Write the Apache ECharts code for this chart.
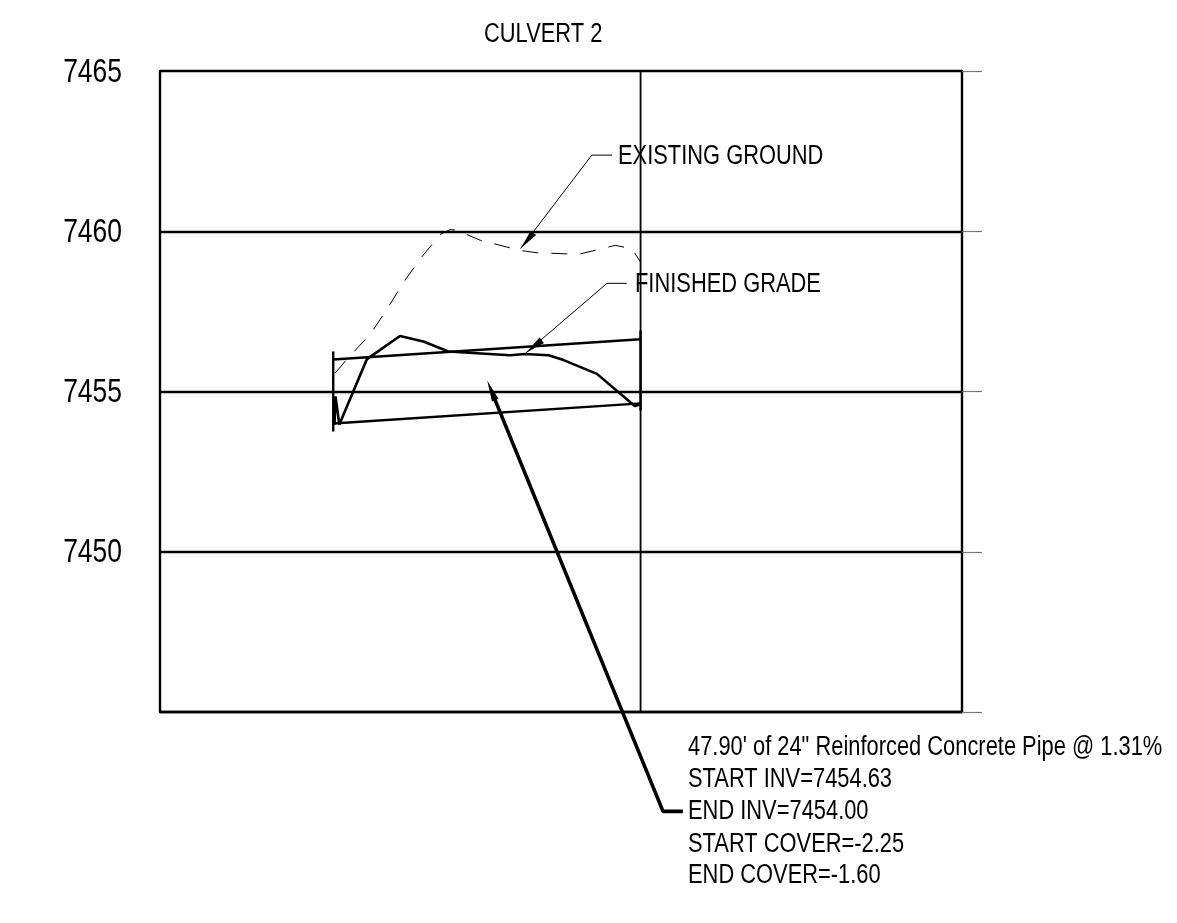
<!DOCTYPE html>
<html>
<head>
<meta charset="utf-8">
<style>html,body{margin:0;padding:0;background:#fff}#c{width:1177px;height:923px}</style>
<script src="https://cdn.jsdelivr.net/npm/echarts@6/dist/echarts.min.js"></script>
</head>
<body>
<div id="c"></div>
<script>
var titleText = 'CULVERT 2';
var yTicks = [7445, 7450, 7455, 7460, 7465];
var yTickLabels = [7450, 7455, 7460, 7465];
var xRange = [-27, 98];
// station (ft), elevation (ft)
var existingGround = [[0.33,7455.58],[2.1,7456.0],[5.75,7456.78],[8.35,7457.56],[10.94,7458.4],[13.53,7459.13],[16.65,7459.9],[18.2,7460.05],[19.5,7460.03],[20.8,7459.9],[22.9,7459.72],[29.15,7459.4],[31.75,7459.33],[38.25,7459.28],[43.97,7459.56],[46.57,7459.45],[47.9,7459.04]];
var finishedGrade = [[0.2,7453.97],[0.35,7454.85],[0.95,7453.97],[5.25,7456.01],[10.4,7456.73],[14.05,7456.56],[17.95,7456.25],[27.55,7456.13],[29.9,7456.17],[33.55,7456.13],[35.9,7455.98],[41.1,7455.55],[47.0,7454.55],[48.0,7454.6]];
var pipeTop = [[0,7456.0],[47.9,7456.63]];
var pipeBottom = [[0,7454.0],[47.9,7454.63]];
var pipeStartEnd = [[0,7456.25],[0,7453.75]];
var pipeFinishEnd = [[47.9,7456.9],[47.9,7454.4]];
var stationLine = [[47.9,7445],[47.9,7465]];
var leaderExisting = [[43.45,7462.375],[40.3,7462.375],[29.2,7459.46]];
var leaderFinished = [[45.75,7458.375],[42.66,7458.375],[30.0,7456.2]];
var leaderPipe = [[54.5,7441.9],[51.4,7441.9],[25.0,7454.85]];
// tip of each arrow, and point on the shaft where the head ends
var arrowHeads = [[[29.2,7459.46],[31.2,7459.95]],[[30.0,7456.2],[32.5,7456.6]],[[24.0,7455.34],[25.25,7454.73]]];
var labelExisting = 'EXISTING GROUND';
var labelFinished = 'FINISHED GRADE';
var pipeNotes = ['47.90\' of 24" Reinforced Concrete Pipe @ 1.31%','START INV=7454.63','END INV=7454.00','START COVER=-2.25','END COVER=-1.60'];
var pipeNoteCentres = [748, 780, 812, 845, 876];

function line(data, width, extra) {
  return Object.assign({type:'line', data:data, symbol:'none', silent:true, animation:false, clip:false,
    lineStyle:{color:'#000', width:width}, z:3}, extra || {});
}
var font = '"Liberation Sans", Arial, sans-serif';
function label(text, x, y) {
  return {type:'text', x:x, y:y, scaleX:0.81, silent:true,
    style:{text:text, font:'27px '+font, fill:'#000', align:'left', verticalAlign:'middle'}};
}
var chart = echarts.init(document.getElementById('c'), null, {renderer:'canvas'});
chart.setOption({
  animation:false,
  backgroundColor:'#fff',
  grid:{left:160, top:71, width:802, height:641, containLabel:false},
  xAxis:{type:'value', min:xRange[0], max:xRange[1], position:'bottom',
    axisLine:{show:true,onZero:false,lineStyle:{color:'#000',width:2.4}},
    axisTick:{show:false}, axisLabel:{show:false}, splitLine:{show:false}},
  yAxis:[
    {type:'value', min:yTicks[0], max:yTicks[yTicks.length-1], interval:5, position:'left',
     axisLine:{show:true,onZero:false,lineStyle:{color:'#000',width:2.4}},
     axisTick:{show:false}, axisLabel:{show:false},
     splitLine:{show:true, lineStyle:{color:'#000', width:2.4}}},
    {type:'value', min:yTicks[0], max:yTicks[yTicks.length-1], interval:5, position:'right',
     axisLine:{show:true,onZero:false,lineStyle:{color:'#000',width:2.4}},
     axisTick:{show:true,length:20,lineStyle:{color:'#777',width:1.2}},
     axisLabel:{show:false}, splitLine:{show:false}}
  ],
  graphic:[
    label(titleText, 484, 35),
    label(labelExisting, 618, 157),
    label(labelFinished, 635, 285)
  ].concat(pipeNotes.map(function(t,i){return label(t, 688, pipeNoteCentres[i]);})),
  series:[
    line(existingGround, 1, {lineStyle:{color:'#000',width:1,type:[16,13]}}),
    line(finishedGrade, 2.6),
    line(pipeTop, 2.4),
    line(pipeBottom, 2.4),
    line(pipeStartEnd, 2.4),
    line(pipeFinishEnd, 2.4),
    line(stationLine, 1.8),
    line(leaderExisting, 1),
    line(leaderFinished, 1),
    line(leaderPipe, 3.6),
    {type:'custom', data:arrowHeads, silent:true, animation:false, z:4,
     coordinateSystem:'cartesian2d', encode:{x:[],y:[]},
     renderItem:function(params, api){
       var a = arrowHeads[params.dataIndex];
       var tip = api.coord(a[0]), base = api.coord(a[1]);
       var dx = base[0]-tip[0], dy = base[1]-tip[1], L = Math.sqrt(dx*dx+dy*dy);
       var nx = -dy/L*3.5, ny = dx/L*3.5;
       return {type:'polygon', shape:{points:[tip,[base[0]+nx,base[1]+ny],[base[0]-nx,base[1]-ny]]}, style:{fill:'#000'}};
     }},
    {type:'custom', data:yTickLabels, silent:true, animation:false, z:5,
     coordinateSystem:'cartesian2d', encode:{x:[],y:[]},
     renderItem:function(params, api){
       var v = yTickLabels[params.dataIndex];
       var p = api.coord([xRange[0], v]);
       return {type:'text', x:p[0]-38, y:p[1]+1.5, scaleX:0.79,
         style:{text:String(v), font:'33.5px '+font, fill:'#000', align:'right', verticalAlign:'middle'}};
     }}
  ]
});
</script>
</body>
</html>
